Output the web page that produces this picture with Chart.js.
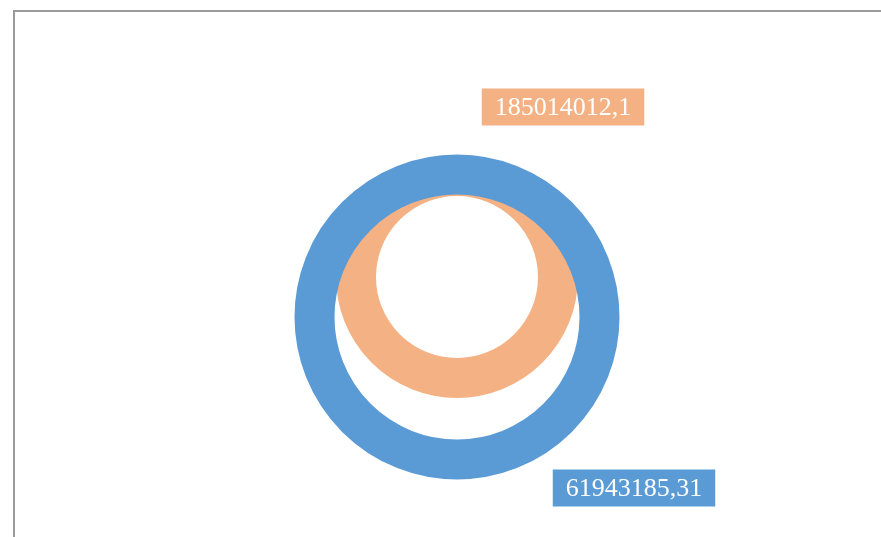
<!DOCTYPE html>
<html>
<head>
<meta charset="utf-8">
<script src="https://cdn.jsdelivr.net/npm/chart.js@4/dist/chart.umd.min.js"></script>
<style>
  body { margin: 0; background: #fff; }
  #wrap { width: 881px; height: 537px; position: relative; }
</style>
</head>
<body>
<div id="wrap"><canvas id="grafico"></canvas></div>
<script>
// Datos del gráfico
const series = ['Serie 1', 'Serie 2'];
const valores = [61943185.31, 185014012.1];
const textos = ['61943185,31', '185014012,1'];
const posX = [1, 1];
const posY = [1, 2];
const radios = [142.5, 101];
const colores = ['#5B9BD5', '#F4B183'];

// Marco gris (solo bordes izquierdo y superior visibles)
const marco = {
    id: 'marco',
    beforeDraw(chart) {
        const ctx = chart.ctx;
        ctx.save();
        ctx.strokeStyle = '#9a9a9a';
        ctx.lineWidth = 2;
        ctx.beginPath();
        ctx.moveTo(14, chart.height + 5);
        ctx.lineTo(14, 11);
        ctx.lineTo(chart.width + 5, 11);
        ctx.stroke();
        ctx.restore();
    }
};

// Etiquetas con caja de color
const desplaz = [[177, 171], [106, -170]];
const etiquetas = {
    id: 'etiquetas',
    afterDatasetsDraw(chart) {
        const ctx = chart.ctx;
        ctx.save();
        ctx.font = '26px "Liberation Serif", serif';
        ctx.textAlign = 'center';
        ctx.textBaseline = 'middle';
        chart.data.datasets.forEach((ds, i) => {
            const pt = chart.getDatasetMeta(i).data[0];
            const cx = pt.x + desplaz[i][0];
            const cy = pt.y + desplaz[i][1];
            const w = ctx.measureText(textos[i]).width + 26;
            const h = 37;
            ctx.fillStyle = colores[i];
            ctx.fillRect(cx - w / 2, cy - h / 2, w, h);
            ctx.fillStyle = '#ffffff';
            ctx.fillText(textos[i], cx, cy + 1);
        });
        ctx.restore();
    }
};

const ctx = document.getElementById('grafico').getContext('2d');
new Chart(ctx, {
    type: 'bubble',
    data: {
        datasets: series.map((s, i) => ({
            label: s,
            data: [{ x: posX[i], y: posY[i], r: radios[i], v: valores[i] }],
            backgroundColor: 'rgba(0,0,0,0)',
            borderColor: colores[i],
            borderWidth: 40,
            hoverBorderWidth: 40,
            clip: false
        }))
    },
    options: {
        responsive: true,
        maintainAspectRatio: false,
        animation: false,
        layout: { autoPadding: false, padding: { left: 33, right: 0, top: 0, bottom: 0 } },
        scales: {
            x: { display: false, min: 0, max: 2 },
            y: { display: false, min: -4.5, max: 8.925 }
        },
        plugins: {
            legend: { display: false },
            tooltip: { enabled: false }
        }
    },
    plugins: [marco, etiquetas]
});
</script>
</body>
</html>
